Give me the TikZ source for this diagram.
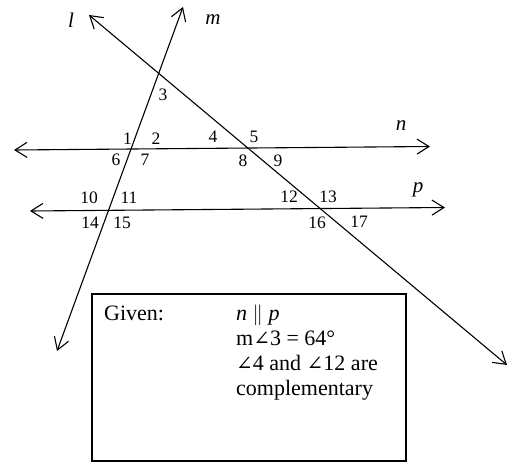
\documentclass[tikz,border=0pt]{standalone}
\usepackage{fontspec}
\setmainfont{Liberation Serif}
\newfontfamily\angfont{DejaVu Serif}
\usetikzlibrary{arrows.meta}
\newcommand{\angsym}{{\fontsize{20}{20}\selectfont\angfont ∠}}
\begin{document}
\begin{tikzpicture}[x=1pt,y=-1pt,
  ln/.style={line width=1.1pt, {Straight Barb[length=12pt,width=15pt]}-{Straight Barb[length=12pt,width=15pt]}},
  num/.style={inner sep=0pt, font=\fontsize{17.5}{17.5}\selectfont},
  lbl/.style={inner sep=0pt, font=\fontsize{21}{21}\selectfont\itshape},
  gtext/.style={inner sep=0pt, anchor=base west, font=\fontsize{22}{25}\selectfont}]
\useasboundingbox (0,0) rectangle (511,462);
% line end points
\coordinate (mT) at (183,7);
\coordinate (mB) at (57,351);
\coordinate (lT) at (89,15);
\coordinate (lB) at (507,365);
\coordinate (nL) at (14,150);
\coordinate (nR) at (430,146.5);
\coordinate (pL) at (30,211);
\coordinate (pR) at (445,207.5);
\draw[ln] (mT) -- (mB);
\draw[ln] (lT) -- (lB);
\draw[ln] (nL) -- (nR);
\draw[ln] (pL) -- (pR);
% line labels
\node[lbl] (Ll) at (71,20) {l};
\node[lbl] (Lm) at (213,19.5) {m};
\node[lbl] (Ln) at (401,126) {n};
\node[lbl] (Lp) at (418,190) {p};
% angle numbers
\node[num] (a3) at (163,95) {3};
\node[num] (a1) at (127.5,138.5) {1};
\node[num] (a2) at (156,138.5) {2};
\node[num] (a4) at (213,137) {4};
\node[num] (a5) at (254,137) {5};
\node[num] (a6) at (116,160) {6};
\node[num] (a7) at (145,160) {7};
\node[num] (a8) at (243,161) {8};
\node[num] (a9) at (278,161) {9};
\node[num] (a10) at (89,198) {10};
\node[num] (a11) at (129,198) {11};
\node[num] (a12) at (289,197) {12};
\node[num] (a13) at (328,197) {13};
\node[num] (a14) at (90,223) {14};
\node[num] (a15) at (122,223) {15};
\node[num] (a16) at (317,223) {16};
\node[num] (a17) at (359,222) {17};
% given box
\draw[line width=1.1pt] (92,294) rectangle (406,461);
\node[gtext] (given) at (104,320) {Given:};
\node[gtext] (g1) at (236,320) {\textit{n} $\parallel$ \textit{p}};
\node[gtext] (g2) at (236,345) {m\angsym3 = 64°};
\node[gtext] (g3) at (236,370) {\angsym4 and \angsym12 are};
\node[gtext] (g4) at (236,395) {complementary};
\end{tikzpicture}
\end{document}
